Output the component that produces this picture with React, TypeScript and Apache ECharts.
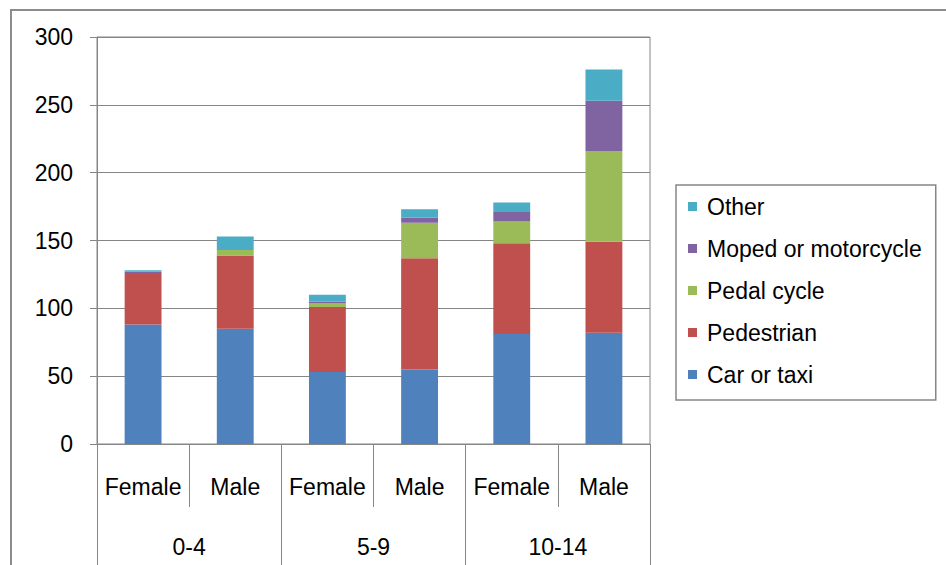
import React, { useEffect, useRef } from "react";
import * as echarts from "echarts";

// Casualties by age band, sex and mode of travel
const sexes = ["Female", "Male", "Female", "Male", "Female", "Male"];
const ageBands = ["0-4", "5-9", "10-14"];
const carOrTaxi = [88, 85, 53, 55, 81, 82];
const pedestrian = [38, 54, 48, 82, 67, 67];
const pedalCycle = [0, 4, 3, 26, 16, 67];
const mopedOrMotorcycle = [1, 0, 1, 4, 7, 37];
const other = [1, 10, 5, 6, 7, 23];
const yTicks = { min: 0, max: 300, interval: 50 };

const seriesDefs = [
  { name: "Car or taxi", data: carOrTaxi, color: "#4F81BD" },
  { name: "Pedestrian", data: pedestrian, color: "#C0504D" },
  { name: "Pedal cycle", data: pedalCycle, color: "#9BBB59" },
  { name: "Moped or motorcycle", data: mopedOrMotorcycle, color: "#8064A2" },
  { name: "Other", data: other, color: "#4BACC6" },
];

const FONT = "'Liberation Sans', Arial, sans-serif";
const FS = 23;
const GRAY = "#868686";

export default function App() {
  const ref = useRef<HTMLDivElement>(null);

  useEffect(() => {
    if (!ref.current) return;
    const chart = echarts.init(ref.current, undefined, { renderer: "svg" });
    chart.setOption({
      animation: false,
      backgroundColor: "#ffffff",
      textStyle: { fontFamily: FONT },
      graphic: [
        {
          type: "rect",
          shape: { x: 11, y: 10, width: 1000, height: 1000 },
          style: { fill: "none", stroke: "#8c8c8c", lineWidth: 2 },
          silent: true,
        },
      ],
      grid: {
        left: 97,
        right: 296,
        top: 37,
        bottom: 121,
        show: true,
        borderColor: GRAY,
        borderWidth: 1,
        backgroundColor: "transparent",
      },
      legend: {
        orient: "vertical",
        left: 676,
        top: 185,
        data: [...seriesDefs].reverse().map((s) => s.name),
        icon: "rect",
        itemWidth: 9,
        itemHeight: 9,
        itemGap: 19,
        borderColor: GRAY,
        borderWidth: 1.5,
        padding: [10, 14, 14, 12],
        textStyle: { fontSize: FS, color: "#000", fontFamily: FONT, padding: [0, 0, 0, 5] },
      },
      xAxis: [
        {
          type: "category",
          data: sexes,
          position: "bottom",
          axisLine: { show: true, lineStyle: { color: GRAY, width: 1 } },
          axisTick: { show: true, interval: 0, length: 63, lineStyle: { color: GRAY } },
          axisLabel: { interval: 0, fontSize: FS, color: "#000", margin: 31, fontFamily: FONT },
          splitLine: { show: false },
        },
        {
          type: "category",
          data: ageBands,
          position: "bottom",
          axisLine: { show: false },
          axisTick: { show: true, interval: 0, length: 130, lineStyle: { color: GRAY } },
          axisLabel: { interval: 0, fontSize: FS, color: "#000", margin: 91, fontFamily: FONT },
          splitLine: { show: false },
        },
      ],
      yAxis: {
        type: "value",
        min: yTicks.min,
        max: yTicks.max,
        interval: yTicks.interval,
        axisLine: { show: true, lineStyle: { color: GRAY, width: 1 } },
        axisTick: { show: true, length: 7, lineStyle: { color: GRAY } },
        axisLabel: { fontSize: FS, color: "#000", margin: 24, fontFamily: FONT },
        splitLine: { show: true, lineStyle: { color: GRAY, width: 1 } },
      },
      series: seriesDefs.map((s) => ({
        name: s.name,
        type: "bar",
        stack: "total",
        xAxisIndex: 0,
        barWidth: "40%",
        data: s.data,
        itemStyle: { color: s.color },
      })),
    });
    return () => chart.dispose();
  }, []);

  return (
    <div
      ref={ref}
      style={{ position: "fixed", left: 0, top: 0, width: 946, height: 565 }}
    />
  );
}
